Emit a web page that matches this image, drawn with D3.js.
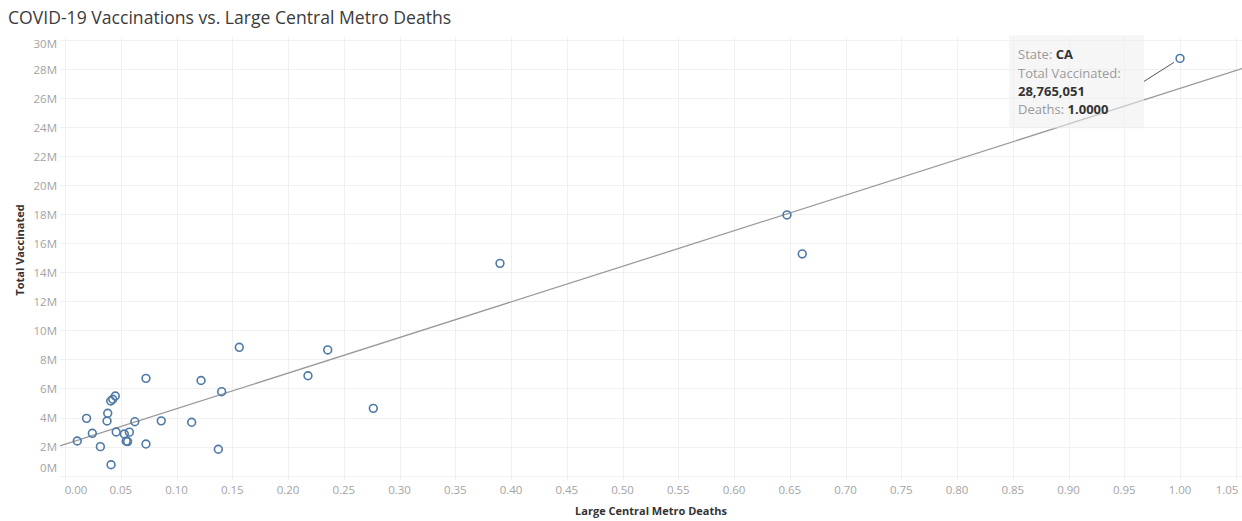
<!DOCTYPE html>
<html>
<head>
<meta charset="utf-8">
<script src="https://cdn.jsdelivr.net/npm/d3@7"></script>
<style>
  body { margin: 0; background: #fff; }
  svg { display: block; font-family: "Open Sans", "Noto Sans", sans-serif; }
</style>
</head>
<body>
<svg id="chart" width="1242" height="521"></svg>
<script>
// ---- data ----
const states = ["S1","S2","S3","S4","S5","S6","S7","S8","S9","S10","S11","S12","S13","S14","S15","S16","S17","S18","S19","S20","S21","S22","S23","S24","S25","S26","S27","S28","S29","S30","CA"];
const deaths = [0.0726,0.0451,0.0428,0.0410,0.0383,0.0377,0.0193,0.0626,0.0863,0.1136,0.1220,0.1405,0.2179,0.0110,0.0245,0.0459,0.0532,0.0577,0.0549,0.0561,0.0317,0.0726,0.1375,0.0413,0.1563,0.2356,0.2765,0.3901,0.6475,0.6612,1.0000];
const vaccinated = [6700000,5480000,5260000,5140000,4290000,3760000,3940000,3710000,3770000,3670000,6550000,5780000,6880000,2380000,2910000,3000000,2860000,2990000,2370000,2340000,1990000,2170000,1810000,740000,8840000,8660000,4630000,14630000,17970000,15280000,28765051];
const xTicks = [0,0.05,0.10,0.15,0.20,0.25,0.30,0.35,0.40,0.45,0.50,0.55,0.60,0.65,0.70,0.75,0.80,0.85,0.90,0.95,1.00,1.05];
const yTicks = [0,2e6,4e6,6e6,8e6,10e6,12e6,14e6,16e6,18e6,20e6,22e6,24e6,26e6,28e6,30e6];
const xDomain = [-0.0045, 1.0556];
const yDomain = [-0.31e6, 30.24e6];
const highlighted = "CA";
const titleText = "COVID-19 Vaccinations vs. Large Central Metro Deaths";
const xTitle = "Large Central Metro Deaths";
const yTitle = "Total Vaccinated";

// ---- layout ----
const W = 1242, H = 521;
const pane = {left: 60, right: 1242, top: 37, bottom: 480};
const svg = d3.select("#chart");

const x = d3.scaleLinear().domain(xDomain).range([pane.left, pane.right]);
const y = d3.scaleLinear().domain(yDomain).range([pane.bottom, pane.top]);

// title
svg.append("text").attr("x", 8).attr("y", 24)
  .attr("font-size", 17.6).attr("fill", "#3b3b3b").text(titleText);

// gridlines
const grid = svg.append("g");
grid.selectAll(".hg").data(yTicks).join("line")
  .attr("x1", pane.left).attr("x2", pane.right)
  .attr("y1", d => Math.round(y(d)) + 0.5).attr("y2", d => Math.round(y(d)) + 0.5)
  .attr("stroke", "#f0f0f0").attr("stroke-width", 1);
grid.selectAll(".vg").data(xTicks).join("line")
  .attr("y1", pane.top).attr("y2", pane.bottom)
  .attr("x1", d => Math.round(x(d)) + 0.5).attr("x2", d => Math.round(x(d)) + 0.5)
  .attr("stroke", "#f0f0f0").attr("stroke-width", 1);

// y axis labels (clamped to the pane, like Tableau)
const fmtM = d => d3.format(".0f")(d / 1e6) + "M";
svg.append("g").selectAll("text").data(yTicks).join("text")
  .attr("x", 57)
  .attr("y", d => Math.max(pane.top + 7, Math.min(pane.bottom - 12, y(d))))
  .attr("dy", "0.35em").attr("text-anchor", "end")
  .attr("font-size", 11.5).attr("fill", "#a3a3a3").text(fmtM);

// x axis labels
const fmtX = d3.format(".2f");
svg.append("g").selectAll("text").data(xTicks).join("text")
  .attr("x", d => Math.max(pane.left + 16, Math.min(pane.right - 15, x(d))))
  .attr("y", 490).attr("dy", "0.35em").attr("text-anchor", "middle")
  .attr("font-size", 11.5).attr("fill", "#a3a3a3").text(fmtX);

// axis titles
svg.append("text").attr("x", (pane.left + pane.right) / 2).attr("y", 511)
  .attr("dy", "0.35em").attr("text-anchor", "middle")
  .attr("font-size", 11).attr("font-weight", "bold").attr("fill", "#333").text(xTitle);
svg.append("text").attr("transform", "translate(20,250) rotate(-90)")
  .attr("dy", "0.35em").attr("text-anchor", "middle")
  .attr("font-size", 11).attr("font-weight", "bold").attr("fill", "#333").text(yTitle);

// trend line (least squares)
const n = deaths.length;
const mx = d3.mean(deaths), my = d3.mean(vaccinated);
let sxy = 0, sxx = 0;
for (let i = 0; i < n; i++) { sxy += (deaths[i]-mx)*(vaccinated[i]-my); sxx += (deaths[i]-mx)**2; }
const slope = sxy / sxx, intercept = my - slope * mx;
svg.append("line")
  .attr("x1", x(xDomain[0])).attr("y1", y(intercept + slope * xDomain[0]))
  .attr("x2", x(xDomain[1])).attr("y2", y(intercept + slope * xDomain[1]))
  .attr("stroke", "#9a9a9a").attr("stroke-width", 1.3);

// points
const pts = states.map((s, i) => ({s, d: deaths[i], v: vaccinated[i]}));
svg.append("g").selectAll("circle").data(pts).join("circle")
  .attr("cx", d => x(d.d)).attr("cy", d => y(d.v)).attr("r", 3.9)
  .attr("fill", "none").attr("stroke", "#4e79a7").attr("stroke-width", 1.6);

// tooltip annotation for highlighted point
const hp = pts.find(p => p.s === highlighted);
const px = x(hp.d), py = y(hp.v);
const tip = svg.append("g");
const bx = px - 171, by = py - 23, bw = 135, bh = 93;
tip.append("rect").attr("x", bx).attr("y", by).attr("width", bw).attr("height", bh)
  .attr("fill", "#eeeeee").attr("fill-opacity", 0.55);
tip.append("line").attr("x1", bx + bw).attr("y1", py + 23).attr("x2", px - 6).attr("y2", py + 4)
  .attr("stroke", "#555").attr("stroke-width", 1);
const lines = [
  [["State: ", false], [hp.s, true]],
  [["Total Vaccinated:", false]],
  [[d3.format(",")(hp.v), true]],
  [["Deaths: ", false], [d3.format(".4f")(hp.d), true]]
];
lines.forEach((parts, i) => {
  const t = tip.append("text").attr("x", bx + 9).attr("y", by + 24 + i * 18.3).attr("font-size", 13);
  parts.forEach(([txt, bold]) => {
    t.append("tspan").text(txt)
      .attr("fill", bold ? "#333" : "#9a9a9a")
      .attr("font-weight", bold ? "bold" : "normal");
  });
});
</script>
</body>
</html>
